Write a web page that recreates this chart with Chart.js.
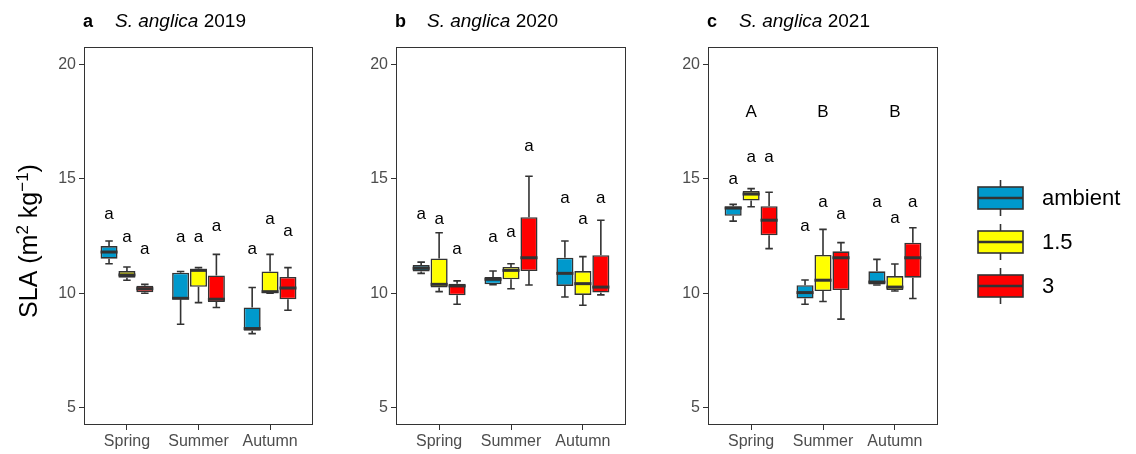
<!DOCTYPE html>
<html>
<head>
<meta charset="utf-8">
<script src="https://cdn.jsdelivr.net/npm/chart.js@4.4.0/dist/chart.umd.min.js"></script>
<style>
  body { margin: 0; background: #fff; width: 1136px; height: 454px; position: relative; overflow: hidden; }
  canvas { position: absolute; top: 0; }
</style>
</head>
<body>
<canvas id="g2019" style="left:0px" width="314" height="454"></canvas>
<canvas id="g2020" style="left:340px" width="287" height="454"></canvas>
<canvas id="g2021" style="left:652px" width="484" height="454"></canvas>
<script>
const seasons = ['Spring', 'Summer', 'Autumn'];
const treatments = ['ambient', '1.5', '3'];
const yTicks = [5, 10, 15, 20];

// per season: [lower whisker, Q1, median, Q3, upper whisker]
const amb2019 = [[11.29, 11.51, 11.80, 12.06, 12.28], [8.65, 9.74, 9.78, 10.90, 10.95], [8.24, 8.36, 8.46, 9.38, 10.25]];
const t15_2019 = [[10.57, 10.68, 10.80, 10.97, 11.15], [9.59, 10.28, 11.00, 11.07, 11.12], [10.00, 10.00, 10.07, 10.95, 11.70]];
const t3_2019 = [[10.00, 10.05, 10.20, 10.33, 10.39], [9.38, 9.62, 9.74, 10.78, 11.70], [9.26, 9.74, 10.23, 10.71, 11.12]];

const amb2020 = [[10.87, 10.95, 11.09, 11.23, 11.36], [10.37, 10.39, 10.61, 10.71, 10.97], [9.84, 10.32, 10.87, 11.55, 12.28]];
const t15_2020 = [[10.07, 10.25, 10.39, 11.52, 12.64], [10.20, 10.61, 11.00, 11.15, 11.29], [9.48, 9.93, 10.42, 10.97, 11.60]];
const t3_2020 = [[9.52, 9.91, 10.32, 10.42, 10.54], [10.36, 10.97, 11.55, 13.32, 15.11], [9.93, 10.03, 10.27, 11.66, 13.19]];

const amb2021 = [[13.15, 13.38, 13.72, 13.80, 13.88], [9.52, 9.77, 10.03, 10.35, 10.58], [10.36, 10.38, 10.49, 10.96, 11.48]];
const t15_2021 = [[13.78, 14.05, 14.33, 14.46, 14.57], [9.64, 10.10, 10.57, 11.67, 12.79], [10.10, 10.14, 10.27, 10.75, 11.28]];
const t3_2021 = [[11.95, 12.53, 13.19, 13.80, 14.41], [8.87, 10.14, 11.55, 11.83, 12.21], [9.77, 10.68, 11.55, 12.21, 12.86]];

// heights of the significance letters, [season][treatment]
const letters2019 = [[13.44, 12.43, 11.92], [12.43, 12.43, 12.93], [11.92, 13.22, 12.71]];
const letters2020 = [[13.44, 13.22, 11.92], [12.43, 12.64, 16.39], [14.14, 13.22, 14.14]];
const letters2021 = [[14.97, 15.94, 15.94], [12.93, 13.95, 13.44], [13.95, 13.25, 13.95]];
const seasonLetters2021 = ['A', 'B', 'B'];
const seasonLetterY = 17.9;

const fills = ['#0099CC', '#FFFF00', '#FF0000'];
const ink = '#333333';
const FONT = '"Liberation Sans", Arial, sans-serif';

const boxExtras = {
  id: 'boxExtras',
  beforeDatasetsDraw(chart, args, opts) {
    const ctx = chart.ctx, y = chart.scales.y;
    ctx.save();
    ctx.strokeStyle = ink;
    ctx.lineWidth = 1.6;
    chart.data.datasets.forEach((ds, t) => {
      chart.getDatasetMeta(t).data.forEach((el, i) => {
        const s = ds.stats[i];
        const cap = el.width * 0.22;
        ctx.beginPath();
        ctx.moveTo(el.x, y.getPixelForValue(s[0]));
        ctx.lineTo(el.x, y.getPixelForValue(s[1]));
        ctx.moveTo(el.x, y.getPixelForValue(s[3]));
        ctx.lineTo(el.x, y.getPixelForValue(s[4]));
        ctx.moveTo(el.x - cap, y.getPixelForValue(s[0]));
        ctx.lineTo(el.x + cap, y.getPixelForValue(s[0]));
        ctx.moveTo(el.x - cap, y.getPixelForValue(s[4]));
        ctx.lineTo(el.x + cap, y.getPixelForValue(s[4]));
        ctx.stroke();
      });
    });
    ctx.restore();
  },
  afterDatasetsDraw(chart, args, opts) {
    const ctx = chart.ctx, y = chart.scales.y, x = chart.scales.x;
    ctx.save();
    ctx.strokeStyle = ink;
    ctx.lineWidth = 3;
    ctx.fillStyle = '#000';
    ctx.font = '17px ' + FONT;
    ctx.textAlign = 'center';
    ctx.textBaseline = 'alphabetic';
    chart.data.datasets.forEach((ds, t) => {
      chart.getDatasetMeta(t).data.forEach((el, i) => {
        const m = y.getPixelForValue(ds.stats[i][2]);
        ctx.beginPath();
        ctx.moveTo(el.x - el.width / 2, m);
        ctx.lineTo(el.x + el.width / 2, m);
        ctx.stroke();
        ctx.fillText('a', el.x, y.getPixelForValue(opts.letters[i][t]) + 4.5);
      });
    });
    if (opts.groups) {
      ctx.textBaseline = 'middle';
      opts.groups.forEach((g, i) => ctx.fillText(g, x.getPixelForValue(i + 1), y.getPixelForValue(seasonLetterY)));
    }
    // panel frame
    const a = chart.chartArea;
    ctx.lineWidth = 1;
    ctx.strokeRect(a.left + 0.5, a.top + 0.5, a.right - a.left - 1, a.bottom - a.top - 1);
    ctx.restore();
  },
  afterDraw(chart, args, opts) {
    const ctx = chart.ctx, a = chart.chartArea;
    ctx.save();
    ctx.fillStyle = '#000';
    ctx.textBaseline = 'alphabetic';
    ctx.textAlign = 'left';
    ctx.font = 'bold 18px ' + FONT;
    ctx.fillText(opts.tag, a.left - 1, 27);
    ctx.font = 'italic 19px ' + FONT;
    const sp = 'S. anglica';
    ctx.fillText(sp, a.left + 31, 27);
    const w = ctx.measureText(sp).width;
    ctx.font = '19px ' + FONT;
    ctx.fillText(' ' + opts.year, a.left + 31 + w, 27);

    if (opts.yTitle) {
      const parts = [['SLA (m', 25, 0], ['2', 17, -9], [' kg', 25, 0], ['\u22121', 17, -9], [')', 25, 0]];
      ctx.save();
      ctx.translate(37, 241);
      ctx.rotate(-Math.PI / 2);
      let total = 0;
      parts.forEach(p => { ctx.font = p[1] + 'px ' + FONT; total += ctx.measureText(p[0]).width; });
      let cx = -total / 2;
      parts.forEach(p => {
        ctx.font = p[1] + 'px ' + FONT;
        ctx.fillText(p[0], cx, p[2]);
        cx += ctx.measureText(p[0]).width;
      });
      ctx.restore();
    }

    if (opts.legend) {
      const bx = a.right + 40, bw = 45, bh = 22;
      treatments.forEach((name, t) => {
        const cy = 198 + t * 44;
        ctx.strokeStyle = ink;
        ctx.lineWidth = 1.6;
        ctx.beginPath();
        ctx.moveTo(bx + bw / 2, cy - bh / 2 - 7);
        ctx.lineTo(bx + bw / 2, cy + bh / 2 + 7);
        ctx.stroke();
        ctx.fillStyle = fills[t];
        ctx.fillRect(bx, cy - bh / 2, bw, bh);
        ctx.strokeRect(bx, cy - bh / 2, bw, bh);
        ctx.lineWidth = 2.5;
        ctx.beginPath();
        ctx.moveTo(bx, cy);
        ctx.lineTo(bx + bw, cy);
        ctx.stroke();
        ctx.fillStyle = '#000';
        ctx.font = '22px ' + FONT;
        ctx.textBaseline = 'middle';
        ctx.fillText(name, bx + 64, cy + 1);
      });
    }
    ctx.restore();
  }
};

function drawPanel(id, boxes, extras, axisW, padRight) {
  const datasets = boxes.map((b, t) => ({
    label: treatments[t],
    data: b.map((s, i) => ({ x: i + 1, y: [s[1], s[3]] })),
    stats: b,
    backgroundColor: fills[t],
    borderColor: ink,
    borderWidth: 1.6,
    borderSkipped: false,
    categoryPercentage: 0.75,
    barPercentage: 0.95
  }));
  const tickFont = { family: FONT, size: 16 };
  new Chart(document.getElementById(id), {
    type: 'bar',
    data: { datasets },
    plugins: [boxExtras],
    options: {
      responsive: false,
      animation: false,
      layout: { padding: { top: 47, right: padRight, left: 0, bottom: 0 } },
      plugins: { legend: { display: false }, tooltip: { enabled: false }, title: { display: false }, boxExtras: extras },
      scales: {
        x: {
          type: 'linear', min: 0.4, max: 3.6, offset: false,
          afterBuildTicks: s => { s.ticks = seasons.map((_, i) => ({ value: i + 1 })); },
          afterFit: s => { s.height = 29; },
          ticks: { callback: v => seasons[v - 1], color: '#4D4D4D', font: tickFont, padding: 2, maxRotation: 0, autoSkip: false },
          grid: { offset: false, drawOnChartArea: false, drawTicks: true, tickLength: 5, color: ink },
          border: { display: false }
        },
        y: {
          min: 4.25, max: 20.75,
          afterBuildTicks: s => { s.ticks = yTicks.map(v => ({ value: v })); },
          afterFit: s => { s.width = axisW; },
          ticks: { color: '#4D4D4D', font: tickFont, padding: 3 },
          grid: { drawOnChartArea: false, drawTicks: true, tickLength: 5, color: ink },
          border: { display: false }
        }
      }
    }
  });
}

drawPanel('g2019', [amb2019, t15_2019, t3_2019], { tag: 'a', year: 2019, letters: letters2019, yTitle: true }, 84, 1);
drawPanel('g2020', [amb2020, t15_2020, t3_2020], { tag: 'b', year: 2020, letters: letters2020 }, 56, 1);
drawPanel('g2021', [amb2021, t15_2021, t3_2021], { tag: 'c', year: 2021, letters: letters2021, groups: seasonLetters2021, legend: true }, 56, 198);
</script>
</body>
</html>
